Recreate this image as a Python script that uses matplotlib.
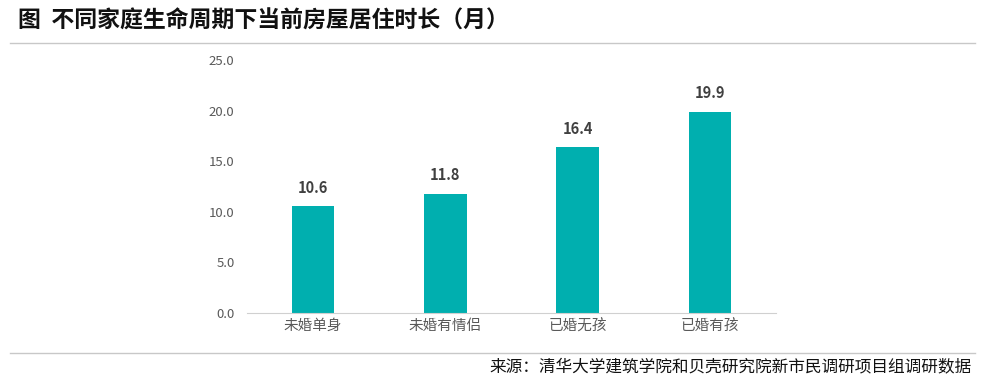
import matplotlib.pyplot as plt
from matplotlib.lines import Line2D

plt.rcParams['font.family'] = ['Noto Sans CJK SC', 'DejaVu Sans']

# 数据
categories = ['未婚单身', '未婚有情侣', '已婚无孩', '已婚有孩']
values = [10.6, 11.8, 16.4, 19.9]
yticks = [0, 5, 10, 15, 20, 25]

bar_color = '#00AFAF'
grey = '#595959'

fig = plt.figure(figsize=(9.82, 3.82), dpi=100)
ax = fig.add_axes([247 / 982, 1 - 313 / 382, 529 / 982, 253 / 382])

x = range(len(categories))
ax.bar(x, values, width=0.32, color=bar_color, zorder=2)
for i, v in zip(x, values):
    ax.text(i, v + 1.0, f'{v:.1f}', ha='center', va='bottom',
            fontsize=10.5, fontweight='bold', color='#404040')

ax.set_xlim(-0.5, len(categories) - 0.5)
ax.set_ylim(0, 25)
ax.set_yticks(yticks)
ax.set_yticklabels([f'{t:.1f}' for t in yticks], fontsize=9.5, color=grey)
ax.set_xticks(list(x))
ax.set_xticklabels(categories, fontsize=10.5, color=grey)
ax.tick_params(axis='y', length=0, pad=9)
ax.tick_params(axis='x', length=0, pad=4)
for s in ['top', 'right', 'left']:
    ax.spines[s].set_visible(False)
ax.spines['bottom'].set_color('#D0D0D0')

# 标题与分隔线
fig.text(18 / 982, 1 - 21 / 382, '图  不同家庭生命周期下当前房屋居住时长（月）',
         fontsize=16.5, fontweight='bold', color='#111111', va='center', ha='left')
fig.add_artist(Line2D([10 / 982, 975 / 982], [1 - 43 / 382] * 2,
                      color='#C8C8C8', lw=1))
fig.add_artist(Line2D([10 / 982, 975 / 982], [1 - 353 / 382] * 2,
                      color='#C8C8C8', lw=1))
fig.text(972 / 982, 1 - 367 / 382, '来源：清华大学建筑学院和贝壳研究院新市民调研项目组调研数据',
         fontsize=12, color='#111111', va='center', ha='right')

fig.savefig('out.png', dpi=100)
